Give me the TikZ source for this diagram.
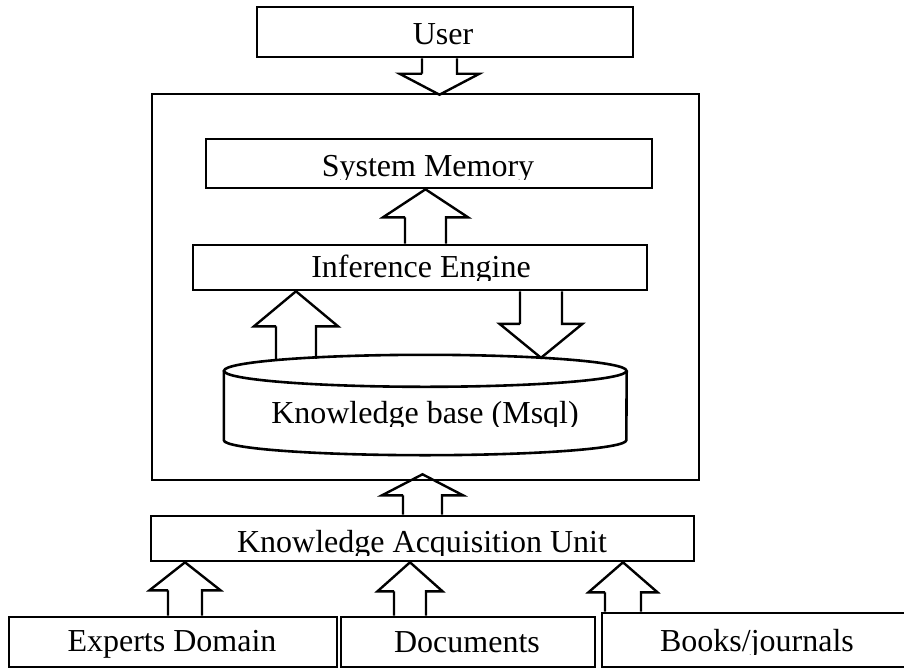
\documentclass[tikz,border=0pt]{standalone}
\usepackage{fontspec}
\setmainfont{Liberation Serif}
\usetikzlibrary{calc}
\tikzset{
  box/.style n args={2}{draw, line width=2.6pt, rectangle, inner sep=0pt,
    minimum width=#1pt, minimum height=#2pt},
  ghost/.style n args={2}{rectangle, inner sep=0pt,
    minimum width=#1pt, minimum height=#2pt},
  lbl/.style={inner sep=0pt, anchor=base, font=\fontsize{32}{38}\selectfont},
  cyl/.style={line width=2.6pt},
  blk/.style n args={3}{draw, line width=2.4pt, line join=miter, to path={
    let \p1=(\tikztostart), \p2=(\tikztotarget),
        \n1={ifthenelse(\y2>\y1,\y2-#3pt,\y2+#3pt)}
    in (\x1-#1pt,\n1) -- (\x1-#2pt,\n1) -- (\x1,\y2)
       -- (\x1+#2pt,\n1) -- (\x1+#1pt,\n1) -- (\x1+#1pt,\y1)
       (\x1-#1pt,\y1) -- (\x1-#1pt,\n1)}},
}
\begin{document}
\begin{tikzpicture}[x=1pt,y=-1pt]
\clip (0,0) rectangle (904,669);
\fill[white] (0,0) rectangle (904,669);

% boxes
\node[box={376}{50}] (user) at (445,32) {};
\node[box={547}{386}] (big) at (425.5,287) {};
\node[box={446}{49}] (sm) at (429,163.5) {};
\node[box={454}{45}] (ie) at (420,267.5) {};
\node[ghost={402.5}{100}] (kb) at (425.25,405) {};
\node[box={543}{45}] (kau) at (422.5,538.5) {};
\node[box={328}{50}] (ex) at (173,642) {};
\node[box={254}{50}] (doc) at (468,642) {};
\node[box={310}{54}] (bk) at (757,640) {};

% cylinder (knowledge base)
\draw[cyl] ($(kb.north)+(0,16)$) ellipse [x radius=201.25pt, y radius=16pt];
\draw[cyl] ($(kb.north west)+(0,16)$) -- ($(kb.south west)+(0,-15)$)
  arc[start angle=180, end angle=360, x radius=201.25pt, y radius=15pt]
  -- ($(kb.north east)+(0,16)$);

% labels
\node[lbl] (usert) at (443,45) {User};
\begin{scope}
  \clip (sm.north west) rectangle ($(sm.south east)+(0,-10)$);
  \node[lbl] (smt) at (428,176) {System Memory};
\end{scope}
\begin{scope}
  \clip (ie.north west) rectangle ($(ie.south east)+(0,-11)$);
  \node[lbl] (iet) at (421,277) {Inference Engine};
\end{scope}
\begin{scope}
  \clip (kb.north west) rectangle ($(kb.south east)+(0,-29)$);
  \node[lbl] (kbt) at (425,423) {Knowledge base (Msql)};
\end{scope}
\begin{scope}
  \clip (kau.north west) rectangle ($(kau.south east)+(0,-7)$);
  \node[lbl] (kaut) at (422,552) {Knowledge Acquisition Unit};
\end{scope}
\node[lbl] (ext) at (172,651) {Experts Domain};
\node[lbl] (doct) at (467,652) {Documents};
\begin{scope}
  \clip (bk.north west) rectangle ($(bk.south east)+(0,-14)$);
  \node[lbl] (bkt) at (757,651) {Books/journals};
\end{scope}

% block arrows
\draw[blk={17.5}{40}{21}] ($(user.south)+(-5.5,0)$) to ($(big.north)+(0,2)$);
\draw[blk={20.5}{42.5}{28}] ($(ie.north)+(5.5,0)$) to (sm.south);
\draw[blk={20}{42}{35}] ($(kb.north)+(-129.25,4)$) to (ie.south);
\draw[blk={21}{41.5}{34}] ($(ie.south)+(121,0)$) to ($(kb.north)+(0,3)$);
\draw[blk={19.5}{40.5}{21}] (kau.north) to ($(big.south)+(0,-7)$);
\draw[blk={17}{35.5}{28}] ($(ex.north)+(12,0)$) to (kau.south);
\draw[blk={16}{32.5}{29}] ($(doc.north)+(-58,0)$) to (kau.south);
\draw[blk={18}{34.5}{30}] ($(bk.north)+(-134,0)$) to (kau.south);
\end{tikzpicture}
\end{document}
